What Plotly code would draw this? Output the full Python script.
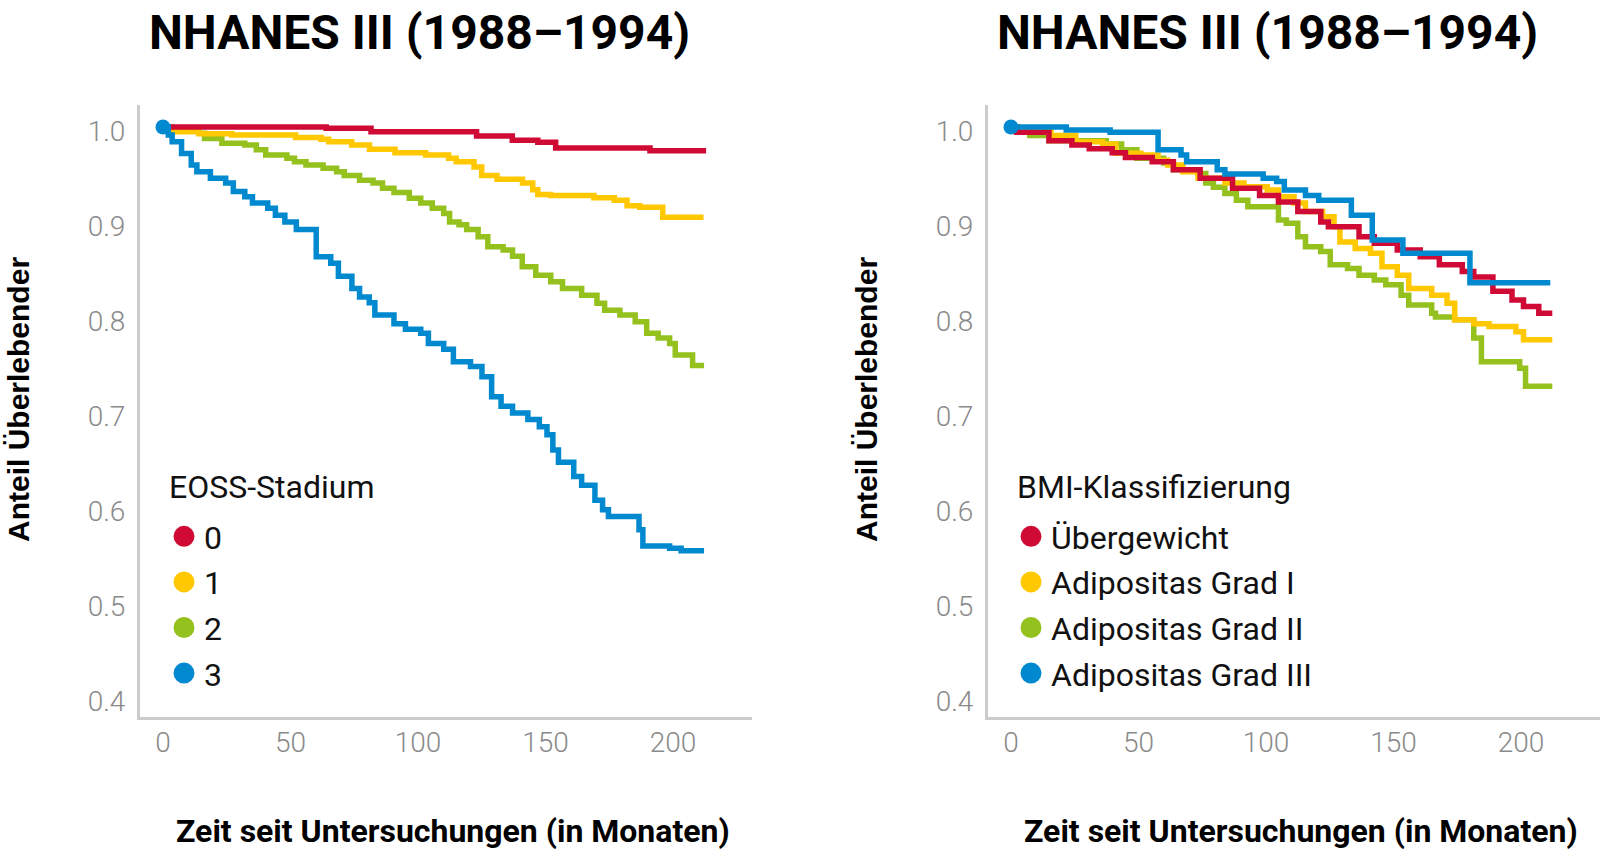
import plotly.graph_objects as go

# ---------------- data (months, survival proportion) ----------------
TITLE = "NHANES III (1988–1994)"
X_TITLE = "Zeit seit Untersuchungen (in Monaten)"
Y_TITLE = "Anteil Überlebender"
Y_TICKS = [0.4, 0.5, 0.6, 0.7, 0.8, 0.9, 1.0]
X_TICKS = [0, 50, 100, 150, 200]

# Left: EOSS stages
eoss_title = "EOSS-Stadium"
eoss_names = ["0", "1", "2", "3"]
eoss0_t = [0, 64, 81.6, 123, 137, 147, 154, 191, 213]
eoss0_s = [1.0, 0.9986, 0.995, 0.9905, 0.986, 0.984, 0.978, 0.975, 0.975]
eoss1_t = [0, 2.8, 14, 27, 52, 62, 65, 74, 81, 91, 103, 112, 115, 122, 125, 131, 141, 145, 147, 152,
           169, 177, 182, 187, 196, 212]
eoss1_s = [1.0, 0.995, 0.993, 0.9916, 0.989, 0.987, 0.9845, 0.981, 0.9765, 0.973, 0.9705, 0.967, 0.9635,
           0.958, 0.949, 0.945, 0.941, 0.934, 0.929, 0.928, 0.9256, 0.923, 0.917, 0.9155, 0.905, 0.905]
eoss2_t = [0, 3.6, 14.1, 16.3, 23.1, 32.1, 36.6, 40.3, 48.6, 51.6, 56.1, 62.8, 68.1, 71.1, 77.1, 82.4,
           86.1, 90.6, 96.6, 101.1, 105.6, 110.1, 112.4, 116.1, 119.1, 123.6, 127.4, 133.4, 137.1, 140.9,
           146.2, 152.1, 156.7, 164.2, 170.2, 173.2, 179.2, 185.2, 189.7, 194.2, 198.7, 200.9, 207.7, 212.2]
eoss2_s = [1.0, 0.9986, 0.9933, 0.988, 0.983, 0.981, 0.976, 0.9705, 0.967, 0.9635, 0.960, 0.9565, 0.953,
           0.949, 0.944, 0.941, 0.9355, 0.931, 0.925, 0.920, 0.9144, 0.909, 0.900, 0.897, 0.892, 0.8845,
           0.874, 0.8705, 0.864, 0.853, 0.844, 0.837, 0.830, 0.823, 0.8144, 0.807, 0.802, 0.795, 0.783,
           0.778, 0.772, 0.760, 0.749, 0.749]
eoss3_t = [0, 2.1, 3.6, 7.3, 11.1, 13.3, 18.6, 24.6, 27.6, 32.1, 35.1, 41.1, 44.1, 47.8, 52.3, 60.1,
           65.8, 68.8, 74.1, 77.1, 80.9, 83.1, 90.6, 95.1, 101.1, 104.1, 110.1, 113.9, 120.6, 125.1,
           128.9, 132.6, 137.1, 143.1, 147.6, 150.6, 152.9, 155.1, 161.1, 164.2, 169.4, 172.4, 174.7,
           186.7, 188.2, 198.7, 203.2, 212.2]
eoss3_s = [1.0, 0.9916, 0.9845, 0.972, 0.960, 0.953, 0.946, 0.941, 0.932, 0.9266, 0.920, 0.9144, 0.907,
           0.900, 0.892, 0.8635, 0.8565, 0.843, 0.830, 0.821, 0.815, 0.802, 0.793, 0.787, 0.783, 0.772,
           0.766, 0.753, 0.748, 0.737, 0.716, 0.706, 0.699, 0.692, 0.6845, 0.676, 0.660, 0.647, 0.632,
           0.623, 0.607, 0.597, 0.590, 0.576, 0.559, 0.5565, 0.554, 0.554]

# Right: BMI classes
bmi_title = "BMI-Klassifizierung"
bmi_names = ["Übergewicht", "Adipositas Grad I", "Adipositas Grad II", "Adipositas Grad III"]
bmi0_t = [0, 2.2, 14.9, 23.9, 30.7, 39.7, 44.9, 55.4, 63.7, 74.2, 86.9, 97.5, 104.9, 112.5, 121.5, 124.5,
          136.5, 142.5, 151.5, 160.5, 168, 177, 181.5, 189, 196.5, 201, 207, 212.3]
bmi0_s = [1.0, 0.9944, 0.9856, 0.981, 0.977, 0.973, 0.968, 0.9635, 0.955, 0.946, 0.9355, 0.928, 0.921,
          0.911, 0.900, 0.895, 0.8845, 0.8776, 0.8705, 0.8635, 0.855, 0.848, 0.842, 0.827, 0.818, 0.811,
          0.804, 0.804]
bmi1_t = [0, 2.9, 15.7, 25.4, 35.9, 41.2, 50.9, 57.7, 61.4, 67.4, 73.4, 83.9, 91.4, 100.5, 104.9, 111,
          115.5, 122.2, 126.7, 129, 135, 141, 145.5, 151.5, 156, 165, 171, 174, 181.5, 187.5, 198, 201, 212.3]
bmi1_s = [1.0, 0.995, 0.991, 0.9845, 0.982, 0.9723, 0.9705, 0.965, 0.960, 0.953, 0.946, 0.941, 0.937,
          0.9337, 0.9266, 0.920, 0.911, 0.9056, 0.895, 0.879, 0.872, 0.867, 0.853, 0.844, 0.830, 0.823,
          0.8144, 0.797, 0.793, 0.790, 0.7845, 0.776, 0.776]
bmi2_t = [0, 2.9, 7.4, 14.9, 37.4, 43.4, 49.4, 59.9, 63.7, 73.4, 76.4, 79.4, 83.9, 88.4, 92.9, 104.9,
          108, 112.5, 115.5, 121.5, 125.2, 132, 136.5, 142.5, 147, 153, 156, 165, 166.5, 174, 181.5,
          184.5, 199.5, 201.8, 212.3]
bmi2_s = [1.0, 0.9944, 0.991, 0.9856, 0.982, 0.976, 0.967, 0.962, 0.955, 0.951, 0.941, 0.9365, 0.930,
          0.923, 0.916, 0.902, 0.8986, 0.8845, 0.874, 0.869, 0.855, 0.851, 0.844, 0.839, 0.834, 0.823,
          0.8126, 0.804, 0.800, 0.797, 0.778, 0.753, 0.746, 0.727, 0.727]
bmi3_t = [0, 21.7, 38.9, 57.7, 66.7, 68.9, 80.9, 83.9, 98.9, 104.2, 107.2, 115.5, 120.7, 133.5, 141.7,
          153.7, 180, 211.5]
bmi3_s = [1.0, 0.9968, 0.9944, 0.976, 0.9705, 0.9635, 0.955, 0.9505, 0.946, 0.9425, 0.9337, 0.928, 0.923,
          0.907, 0.881, 0.867, 0.836, 0.836]

COLORS = ["#cf0a35", "#ffc800", "#95c11f", "#0089cf"]

left_series = [(eoss0_t, eoss0_s), (eoss1_t, eoss1_s), (eoss2_t, eoss2_s), (eoss3_t, eoss3_s)]
right_series = [(bmi0_t, bmi0_s), (bmi1_t, bmi1_s), (bmi2_t, bmi2_s), (bmi3_t, bmi3_s)]

# ---------------- figure ----------------
W, H = 1600, 852
fig = go.Figure()

DRAW_ORDER = [2, 1, 0, 3]  # green, yellow, red, blue (blue on top)


def add_panel(series, names, xa, ya, legend):
    for i in DRAW_ORDER:
        t, s = series[i]
        fig.add_trace(go.Scatter(x=t, y=s, mode="lines", line=dict(color=COLORS[i], width=5.5, shape="hv"),
                                 xaxis=xa, yaxis=ya, showlegend=False, hoverinfo="skip"))
    # start dot on the top (blue) curve
    t, s = series[3]
    fig.add_trace(go.Scatter(x=[t[0]], y=[s[0]], mode="markers", marker=dict(color=COLORS[3], size=15),
                             xaxis=xa, yaxis=ya, showlegend=False, hoverinfo="skip"))
    # legend entries
    for i, name in enumerate(names):
        fig.add_trace(go.Scatter(x=[None], y=[None], mode="markers", name=name,
                                 marker=dict(color=COLORS[i], size=16, line=dict(color=COLORS[i], width=5)),
                                 xaxis=xa, yaxis=ya, legend=legend, legendgroup=f"{legend}{i}",
                                 legendrank=i + 1))


add_panel(left_series, eoss_names, "x", "y", "legend")
add_panel(right_series, bmi_names, "x2", "y2", "legend2")


# page pixel geometry -> paper fractions
def px_x(p):
    return min(max(p / W, 0.0), 1.0)


def px_y(p):
    return min(max(1 - p / H, 0.0), 1.0)


PX_PER_MONTH = 2.55
PX_PER_UNIT = 950  # pixels per 1.0 survival
Y_TOP, Y_BOT = 105, 717
y_dom = [px_y(Y_BOT), px_y(Y_TOP)]
y_range = [1 - 590 / PX_PER_UNIT, 1 + 22 / PX_PER_UNIT]
LABEL_DROP = 4 / PX_PER_UNIT  # tick labels sit a few px below the curve level in the original

L_X0, L_X1 = 140, 752
R_X0, R_X1 = 988, 1600
X_START = -9


def x_range(a, b):
    return [X_START, X_START + (b - a) / PX_PER_MONTH]


axis_line = dict(showline=True, linecolor="#cccccc", linewidth=3, showgrid=False, zeroline=False,
                 ticks="", tickfont=dict(family="Roboto", size=28, color="#8a8a8a", weight=300))

xa_common = dict(tickvals=X_TICKS, ticklabelstandoff=-2, **axis_line)
ya_common = dict(range=y_range, tickvals=[v - LABEL_DROP for v in Y_TICKS],
                 ticktext=[f"{v:.1f}" for v in Y_TICKS], ticklabelstandoff=6, **axis_line)

LEG_FONT = dict(family="Roboto", size=32, color="#111111")
fig.update_layout(
    width=W, height=H,
    margin=dict(l=0, r=0, t=0, b=0),
    paper_bgcolor="white", plot_bgcolor="white",
    xaxis=dict(domain=[px_x(L_X0), px_x(L_X1)], range=x_range(L_X0, L_X1), anchor="y", **xa_common),
    yaxis=dict(domain=y_dom, anchor="x", **ya_common),
    xaxis2=dict(domain=[px_x(R_X0), px_x(R_X1)], range=x_range(R_X0, R_X1), anchor="y2", **xa_common),
    yaxis2=dict(domain=y_dom, anchor="x2", **ya_common),
    legend=dict(x=px_x(164), y=px_y(509), xanchor="left", yanchor="top",
                bgcolor="rgba(0,0,0,0)", font=LEG_FONT, itemsizing="trace", tracegroupgap=1),
    legend2=dict(x=px_x(1011), y=px_y(509), xanchor="left", yanchor="top",
                 bgcolor="rgba(0,0,0,0)", font=LEG_FONT, itemsizing="trace", tracegroupgap=1),
    showlegend=True,
)

annos = []
for cx in (419.5, 1267.5):
    annos.append(dict(text=f"<b>{TITLE}</b>", x=px_x(cx), y=px_y(33), xref="paper", yref="paper",
                      showarrow=False, xanchor="center", yanchor="middle",
                      font=dict(family="Roboto", size=48, color="#000000")))
for cx in (453, 1301):
    annos.append(dict(text=f"<b>{X_TITLE}</b>", x=px_x(cx), y=px_y(831), xref="paper", yref="paper",
                      showarrow=False, xanchor="center", yanchor="middle",
                      font=dict(family="Roboto", size=32, color="#000000")))
for cx in (18, 866):
    annos.append(dict(text=f"<b>{Y_TITLE}</b>", x=px_x(cx), y=px_y(400), xref="paper", yref="paper",
                      showarrow=False, xanchor="center", yanchor="middle", textangle=-90,
                      font=dict(family="Liberation Sans", size=30, color="#000000")))
for lx, txt in ((167, eoss_title), (1015, bmi_title)):
    annos.append(dict(text=txt, x=px_x(lx), y=px_y(487), xref="paper", yref="paper",
                      showarrow=False, xanchor="left", yanchor="middle", font=LEG_FONT))
fig.update_layout(annotations=annos)

# remove the default 8px page margin so the 1600x852 figure fills the window exactly
fig.write_html("out.html",
               config={"displayModeBar": False},
               post_script="document.body.style.margin='0px';"
                           "document.documentElement.style.overflow='hidden';")
